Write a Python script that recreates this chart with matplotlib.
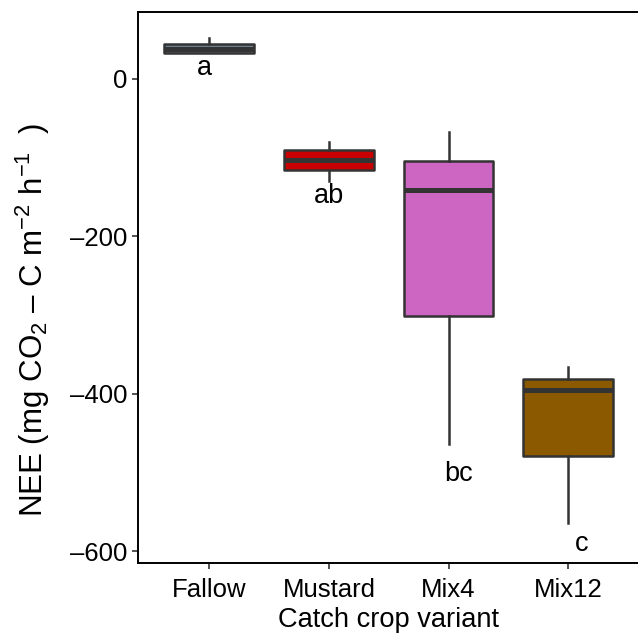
import matplotlib
matplotlib.use("Agg")
import matplotlib.pyplot as plt

plt.rcParams['font.family'] = ['Liberation Sans', 'DejaVu Sans']
plt.rcParams['mathtext.fontset'] = 'custom'
plt.rcParams['mathtext.rm'] = 'Liberation Sans'
plt.rcParams['mathtext.it'] = 'Liberation Sans:italic'
plt.rcParams['mathtext.bf'] = 'Liberation Sans:bold'

categories = ["Fallow", "Mustard", "Mix4", "Mix12"]
whisker_low = [33.3, -129.6, -463.7, -563.6]
q1 = [33.3, -116.2, -301.0, -478.3]
median = [37.5, -102.5, -141.0, -395.0]
q3 = [44.5, -90.8, -104.5, -381.7]
whisker_high = [52.0, -80.0, -67.0, -366.0]
fill_colors = ["#6E7F90", "#C80000", "#CC66C2", "#8B5A00"]
letters = ["a", "ab", "bc", "c"]
letter_y = [5.0, -157.7, -510.5, -599.8]
letter_nudge = [-0.04, 0.0, 0.08, 0.11]

fig = plt.figure(figsize=(6.38, 6.36), dpi=100)
ax = fig.add_axes([137.5 / 638, 1 - 563.3 / 636, (640 - 137.5) / 638, (563.3 - 12) / 636])

stats = []
for i, c in enumerate(categories):
    stats.append(dict(label=c, whislo=whisker_low[i], q1=q1[i], med=median[i],
                      q3=q3[i], whishi=whisker_high[i], fliers=[]))

positions = list(range(1, len(categories) + 1))
edge = "#333333"
bp = ax.bxp(stats, positions=positions, widths=0.75, patch_artist=True,
            showcaps=False, showfliers=False,
            boxprops=dict(edgecolor=edge, linewidth=1.8),
            whiskerprops=dict(color=edge, linewidth=1.8),
            medianprops=dict(color=edge, linewidth=3.6, solid_capstyle='butt'))
for patch, col in zip(bp['boxes'], fill_colors):
    patch.set_facecolor(col)
    patch.set_joinstyle('round')

for i, (lab, y) in enumerate(zip(letters, letter_y)):
    ax.text(positions[i] + letter_nudge[i], y, lab, ha='center', va='baseline',
            fontsize=19.5, color='black')

ax.set_xlim(0.4, 4.6)
ax.set_ylim(-615.2, 85.1)
ax.set_yticks([0, -200, -400, -600])
ax.set_yticklabels(["0", "\u2013200", "\u2013400", "\u2013600"])
ax.set_xticks(positions)
ax.set_xticklabels(categories)

for s in ax.spines.values():
    s.set_linewidth(1.4)
    s.set_color('black')
ax.tick_params(axis='both', length=4.5, width=1.2, color='#333333',
               labelsize=18.5, labelcolor='black', pad=3)
ax.tick_params(axis='x', pad=6)

ax.set_xlabel("Catch crop variant", fontsize=19.6, labelpad=4)
fig.text(33 / 638, 1 - 320 / 636,
         "NEE (mg CO$_2$ \u2013 C m$^{\u22122}$ h$^{\u22121}$  )",
         rotation=90, ha='center', va='center', fontsize=22.5)

fig.savefig("out.png", dpi=100)
